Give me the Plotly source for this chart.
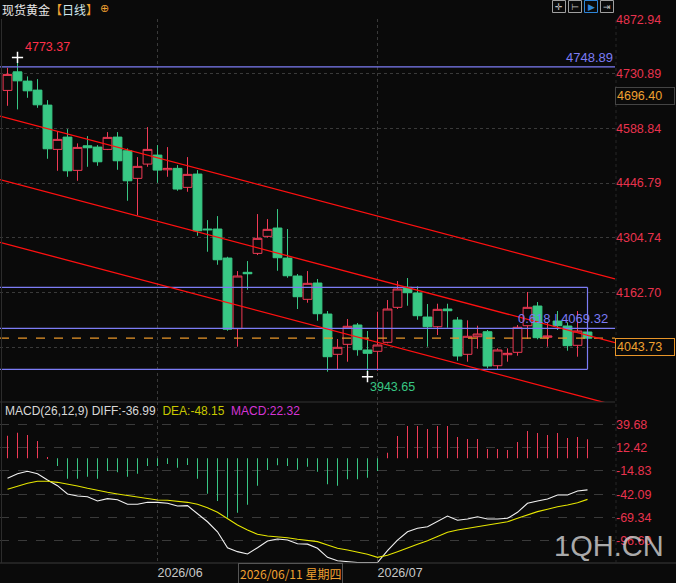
import plotly.graph_objects as go

# ---------------- data ----------------
day_index = list(range(59))
opens = [4687.7, 4736.0, 4711.9, 4688.5, 4649.5, 4534.4, 4566.4, 4479.9, 4543.8, 4540.4,
         4534.4, 4566.4, 4530.8, 4459.1, 4496.2, 4519.6, 4481.4, 4485.1, 4435.7, 4470.3,
         4327.4, 4327.4, 4252.0, 4068.3, 4214.9, 4264.2, 4308.4, 4330.0, 4252.0, 4205.3,
         4144.7, 4187.1, 4106.5, 4001.8, 4027.8, 4078.0, 4013.0, 4009.6, 4033.0, 4123.9,
         4175.9, 4161.1, 4098.7, 4073.5, 4119.5, 4090.9, 4001.8, 4047.6, 4060.5, 3972.2,
         4000.8, 4007.0, 4076.1, 4127.3, 4046.0, 4088.3, 4075.4, 4025.2, 4059.8]
highs = [4746.4, 4773.37, 4724.1, 4717.1, 4662.5, 4582.0, 4587.2, 4550.0, 4569.0, 4545.6,
         4579.4, 4579.4, 4537.0, 4514.4, 4592.4, 4545.6, 4540.4, 4493.6, 4514.4, 4480.6,
         4350.7, 4361.1, 4255.4, 4218.2, 4244.2, 4366.3, 4353.3, 4379.3, 4327.4, 4210.5,
         4218.2, 4197.5, 4114.3, 4041.6, 4093.5, 4083.2, 4062.4, 4112.5, 4142.9, 4192.3,
         4200.1, 4178.5, 4132.5, 4133.3, 4133.3, 4098.7, 4090.2, 4076.1, 4065.0, 4017.4,
         4017.4, 4078.0, 4163.7, 4137.7, 4085.0, 4114.3, 4085.0, 4114.3, 4064.2]
lows = [4647.7, 4638.3, 4668.5, 4642.5, 4510.0, 4478.8, 4463.2, 4452.8, 4489.2, 4491.8,
        4532.6, 4481.4, 4400.9, 4363.0, 4489.2, 4447.7, 4463.2, 4426.9, 4424.3, 4310.0,
        4268.4, 4234.6, 4063.0, 4021.6, 4169.7, 4259.8, 4304.8, 4219.0, 4200.8, 4119.5,
        4135.9, 4089.1, 3956.6, 3963.6, 3982.6, 3998.2, 3943.65, 3959.2, 4030.4, 4119.5,
        4128.1, 4091.7, 4021.6, 4052.0, 4070.9, 3985.2, 3982.6, 4016.4, 3965.5, 3961.0,
        3982.6, 3998.2, 4041.6, 4040.8, 4021.6, 4065.0, 4011.2, 3995.6, 4039.0]
closes = [4729.3, 4712.6, 4686.7, 4650.3, 4536.0, 4560.4, 4478.8, 4539.6, 4538.6, 4502.2,
          4565.6, 4504.8, 4452.8, 4490.3, 4534.4, 4480.6, 4485.1, 4431.3, 4469.5, 4322.9,
          4325.5, 4247.6, 4066.8, 4205.3, 4211.2, 4303.2, 4326.6, 4252.8, 4206.0, 4151.5,
          4186.3, 4107.3, 3995.6, 4020.0, 4074.6, 4013.8, 4004.4, 4026.0, 4119.5, 4171.5,
          4161.9, 4102.1, 4073.5, 4118.7, 4115.1, 3997.4, 4048.6, 4054.6, 3971.4, 4013.0,
          4004.4, 4072.0, 4123.9, 4045.0, 4049.4, 4076.1, 4024.2, 4062.4, 4043.73]

macd_hist = [26.3, 29.9, 27.2, 20.1, 0.8, -9.2, -23.9, -23.9, -21.6, -23.9,
             -15.0, -16.3, -21.6, -18.1, -9.2, -9.2, -6.8, -11.1, -7.9, -23.9,
             -41.5, -50.0, -69.6, -63.7, -54.4, -32.1, -13.8, -8.3, -9.2, -13.4,
             -9.9, -15.8, -30.5, -32.1, -24.7, -24.7, -22.8, -14.9, 6.5, 26.0,
             37.7, 37.7, 34.2, 37.7, 37.7, 24.8, 22.5, 22.5, 10.8, 10.8,
             9.6, 19.0, 31.8, 29.5, 27.1, 29.5, 23.7, 24.8, 22.32]
diff_line = [-23.5, -18.1, -15.3, -18.1, -25.5, -32.1, -41.9, -44.2, -45.0, -50.0,
             -47.3, -48.5, -53.9, -53.9, -51.6, -51.6, -52.7, -55.9, -55.5, -65.2,
             -74.3, -86.0, -104.7, -109.3, -112.0, -104.7, -96.8, -94.5, -95.7, -100.0,
             -100.5, -105.4, -115.9, -119.9, -121.0, -122.0, -122.0, -122.0, -108.2, -95.7,
             -86.0, -82.0, -80.1, -73.4, -67.6, -72.6, -71.1, -68.4, -71.1, -71.1,
             -70.3, -63.3, -52.7, -50.0, -47.7, -43.0, -43.0, -38.3, -36.99]
dea_line = [-36.4, -32.5, -29.3, -27.0, -27.0, -28.2, -30.2, -32.5, -35.2, -37.9,
            -39.9, -41.9, -43.8, -45.7, -47.3, -48.9, -49.2, -50.0, -51.6, -53.9,
            -57.9, -63.3, -71.1, -78.1, -84.0, -89.0, -91.0, -91.8, -93.0, -94.8,
            -96.0, -97.6, -101.5, -105.4, -107.4, -110.0, -112.4, -115.9, -113.4, -109.3,
            -105.4, -100.7, -96.5, -91.8, -86.6, -84.0, -82.0, -80.1, -78.1, -76.1,
            -74.3, -70.3, -66.4, -62.5, -59.7, -56.7, -54.7, -52.0, -48.15]

price_ticks = [4872.94, 4730.89, 4588.84, 4446.79, 4304.74, 4162.70, 4020.65]
price_tick_text = ["4872.94", "4730.89", "4588.84", "4446.79", "4304.74", "4162.70", "4020.65"]
macd_ticks = [39.68, 12.42, -14.83, -42.09, -69.34, -96.60]
macd_tick_text = ["39.68", "12.42", "-14.83", "-42.09", "-69.34", "-96.60"]
month_index = [15, 37]
month_labels = ["2026/06", "2026/07"]

# drawn objects (price levels / channel)
level_top = 4748.89
box_high, box_low, box_mid = 4175.9, 3962.9, 4069.32
last_price = 4043.73
cross_price = 4696.40
peak_price, trough_price = 4773.37, 3943.65
peak_index, trough_index = 1, 36
channel_upper = [(-0.75, 4620.9), (60.75, 4197.7)]
channel_mid = [(-0.75, 4455.9), (60.75, 4032.4)]
channel_lower = [(-0.75, 4292.8), (59.75, 3876.3)]

# ---------------- style ----------------
BG = "#0a0a0a"
RED = "#f03a55"
GREEN = "#38c784"
BLUE = "#7c7cf5"
GRID = "#3a3a3a"
AXRED = "#e8334e"
ORANGE = "#f0a030"
FONT = "Liberation Sans, Arial, sans-serif"
CJK = "Noto Sans CJK SC, sans-serif"

W, H = 676, 583
PL, PR, PT, PB = 0, 615, 19, 563
SPLIT = 402
def px(x):
    return x / (PR - PL)
def py(y):
    return (PB - y) / (PB - PT)

split_frac = py(SPLIT)

fig = go.Figure()

fig.add_trace(go.Candlestick(
    x=day_index, open=opens, high=highs, low=lows, close=closes,
    increasing=dict(line=dict(color=RED, width=1), fillcolor=BG),
    decreasing=dict(line=dict(color=GREEN, width=1), fillcolor=GREEN),
    whiskerwidth=0, xaxis="x", yaxis="y", showlegend=False, hoverinfo="skip"))

# MACD histogram: thin (1px) bars
fig.add_trace(go.Bar(
    x=day_index, y=macd_hist, width=0.08,
    marker=dict(color=[RED if v >= 0 else GREEN for v in macd_hist], line=dict(width=0)),
    xaxis="x", yaxis="y2", showlegend=False, hoverinfo="skip"))

fig.add_trace(go.Scatter(x=day_index, y=diff_line, mode="lines",
                         line=dict(color="#f2f2f2", width=1.1),
                         xaxis="x", yaxis="y2", showlegend=False, hoverinfo="skip"))
fig.add_trace(go.Scatter(x=day_index, y=dea_line, mode="lines",
                         line=dict(color="#e6e600", width=1.1),
                         xaxis="x", yaxis="y2", showlegend=False, hoverinfo="skip"))

# crosshair markers at extreme points
fig.add_trace(go.Scatter(x=[peak_index, trough_index], y=[peak_price, trough_price],
                         mode="markers",
                         marker=dict(symbol="cross-thin", size=8,
                                     line=dict(color="white", width=1.5)),
                         xaxis="x", yaxis="y", showlegend=False, hoverinfo="skip"))

shapes = []
def hline(y, x0, x1, color, width=1, dash="solid"):
    shapes.append(dict(type="line", xref="x", yref="y", x0=x0, x1=x1, y0=y, y1=y,
                       line=dict(color=color, width=width, dash=dash)))

hline(level_top, -0.75, 60.75, BLUE, 1.2)
hline(box_high, -0.75, 58.0, BLUE, 1.2)
hline(box_low, -0.75, 58.0, BLUE, 1.2)
hline(box_mid, -0.75, 60.75, BLUE, 1.2)
shapes.append(dict(type="line", xref="x", yref="y", x0=58.0, x1=58.0, y0=box_low, y1=box_high,
                   line=dict(color=BLUE, width=1.2)))
hline(last_price, -0.75, 60.75, "#e8962a", 1.2, "dash")
for seg in (channel_upper, channel_mid, channel_lower):
    shapes.append(dict(type="line", xref="x", yref="y",
                       x0=seg[0][0], y0=seg[0][1], x1=seg[1][0], y1=seg[1][1],
                       line=dict(color="#ff1010", width=1.3)))

# frame / separators
shapes.append(dict(type="line", xref="paper", yref="paper", x0=0, x1=1, y0=split_frac, y1=split_frac,
                   line=dict(color="#333333", width=1)))
shapes.append(dict(type="line", xref="paper", yref="paper", x0=0, x1=W / PR, y0=0, y1=0,
                   line=dict(color="#3a3a3a", width=1)))
shapes.append(dict(type="line", xref="paper", yref="paper", x0=px(1.5), x1=px(1.5), y0=0, y1=1,
                   line=dict(color="#2c2c2c", width=1)))
shapes.append(dict(type="line", xref="paper", yref="paper", x0=px(616), x1=px(616), y0=0, y1=1,
                   line=dict(color="#262626", width=1, dash="dot")))

# toolbar icons
for i, (x0, x1) in enumerate([(552.5, 565.5), (568.5, 581.5), (584.5, 597.5), (600.5, 613.5)]):
    shapes.append(dict(type="rect", xref="paper", yref="paper",
                       x0=px(x0), x1=px(x1), y0=py(12.5), y1=py(0.5),
                       line=dict(color="#2f86d8" if i == 2 else "#a0a0a0", width=1),
                       fillcolor=BG))

ann = []
def text(x, y, s, color, size=12, xanchor="left", yanchor="middle", font=FONT, **kw):
    ann.append(dict(x=x, y=y, xref="paper", yref="paper", text=s, showarrow=False,
                    xanchor=xanchor, yanchor=yanchor,
                    font=dict(color=color, size=size, family=font), **kw))

# title
text(px(1), py(0), "现货黄金<span style='color:#f0a030'>【</span><span style='color:#cfe8f0'>日线</span><span style='color:#f0a030'>】</span>",
     "#e8e8e8", 12, yanchor="top", font=CJK, borderpad=0)
text(px(104), py(0.5), "⊕", ORANGE, 11, xanchor="center", yanchor="top", font="DejaVu Sans", borderpad=0)
for cx, g, c in [(559, "✛", "#c0c0c0"), (575, "⊢", "#c0c0c0"), (591, "▶", "#2f86d8"), (607, "⇥", "#c0c0c0")]:
    text(px(cx), py(6.5), g, c, 9, xanchor="center", font="DejaVu Sans")

# price labels
ann.append(dict(x=peak_index + 0.52, y=peak_price, xref="x", yref="y", text="4773.37",
                showarrow=False, xanchor="left", yanchor="bottom", yshift=1,
                font=dict(color="#ff3049", size=12.5, family=FONT)))
ann.append(dict(x=trough_index + 0.05, y=trough_price, xref="x", yref="y", text="3943.65",
                showarrow=False, xanchor="left", yanchor="top", yshift=-1,
                font=dict(color=GREEN, size=12.5, family=FONT)))
ann.append(dict(x=60.75, y=level_top, xref="x", yref="y", text="4748.89",
                showarrow=False, xanchor="right", yanchor="bottom", yshift=0,
                font=dict(color=BLUE, size=13, family=FONT)))
ann.append(dict(x=60.2, y=box_mid, xref="x", yref="y", text="0.618 | 4069.32",
                showarrow=False, xanchor="right", yanchor="bottom", yshift=0,
                font=dict(color=BLUE, size=13, family=FONT)))

# right side value boxes
ann.append(dict(x=1.0, y=cross_price, xref="paper", yref="y", text="4696.40",
                showarrow=False, xanchor="left", yanchor="top", width=56, height=14,
                bgcolor=BG, bordercolor="#444444", borderwidth=1, borderpad=1,
                font=dict(color=ORANGE, size=12.5, family=FONT), align="left"))
ann.append(dict(x=1.0, y=last_price, xref="paper", yref="y", text="4043.73",
                showarrow=False, xanchor="left", yanchor="top", width=56, height=14,
                bgcolor=BG, bordercolor="#e8962a", borderwidth=1, borderpad=1,
                font=dict(color=ORANGE, size=12.5, family=FONT), align="left"))

# MACD header
text(px(3), py(411),
     "MACD(26,12,9) DIFF:-36.99  <span style='color:#c8c800'>DEA:-48.15</span>  "
     "<span style='color:#d535d5'>MACD:22.32</span>", "#d8d8d8", 12)

# crosshair date label
text(px(238), py(573.5), "2026/06/11 星期四", ORANGE, 12, font=CJK,
     bgcolor=BG, bordercolor="#555555", borderwidth=1, borderpad=1)

# watermark
text(px(552), py(546), "1QH.CN", "rgba(200,200,200,0.85)", 29)

fig.update_layout(
    width=W, height=H,
    margin=dict(l=PL, r=W - PR, t=PT, b=H - PB),
    paper_bgcolor=BG, plot_bgcolor=BG,
    boxgap=0.12, boxgroupgap=0,
    showlegend=False,
    shapes=shapes, annotations=ann,
    xaxis=dict(domain=[0, 1], range=[-0.75, 60.75], anchor="y2",
               tickvals=month_index, ticktext=month_labels,
               ticklabelposition="outside right", ticks="",
               tickfont=dict(color="#c8c8c8", size=12.5, family=FONT),
               showgrid=True, gridcolor=GRID, griddash="dot", gridwidth=1,
               zeroline=False, showline=False, rangeslider=dict(visible=False),
               fixedrange=True),
    yaxis=dict(domain=[split_frac, 1], range=[3877.88, 4873.3], side="right", anchor="x",
               tickvals=price_ticks, ticktext=price_tick_text, ticks="",
               tickfont=dict(color=AXRED, size=12.5, family=FONT),
               showgrid=True, gridcolor=GRID, griddash="dot", gridwidth=1,
               zeroline=False, showline=False, fixedrange=True),
    yaxis2=dict(domain=[0, split_frac], range=[-122.56, 65.76], side="right", anchor="x",
                tickvals=macd_ticks, ticktext=macd_tick_text, ticks="",
                tickfont=dict(color=AXRED, size=12.5, family=FONT),
                showgrid=True, gridcolor=GRID, griddash="dash", gridwidth=1,
                zeroline=False, showline=False, fixedrange=True),
)

fig.write_html("out.html")
